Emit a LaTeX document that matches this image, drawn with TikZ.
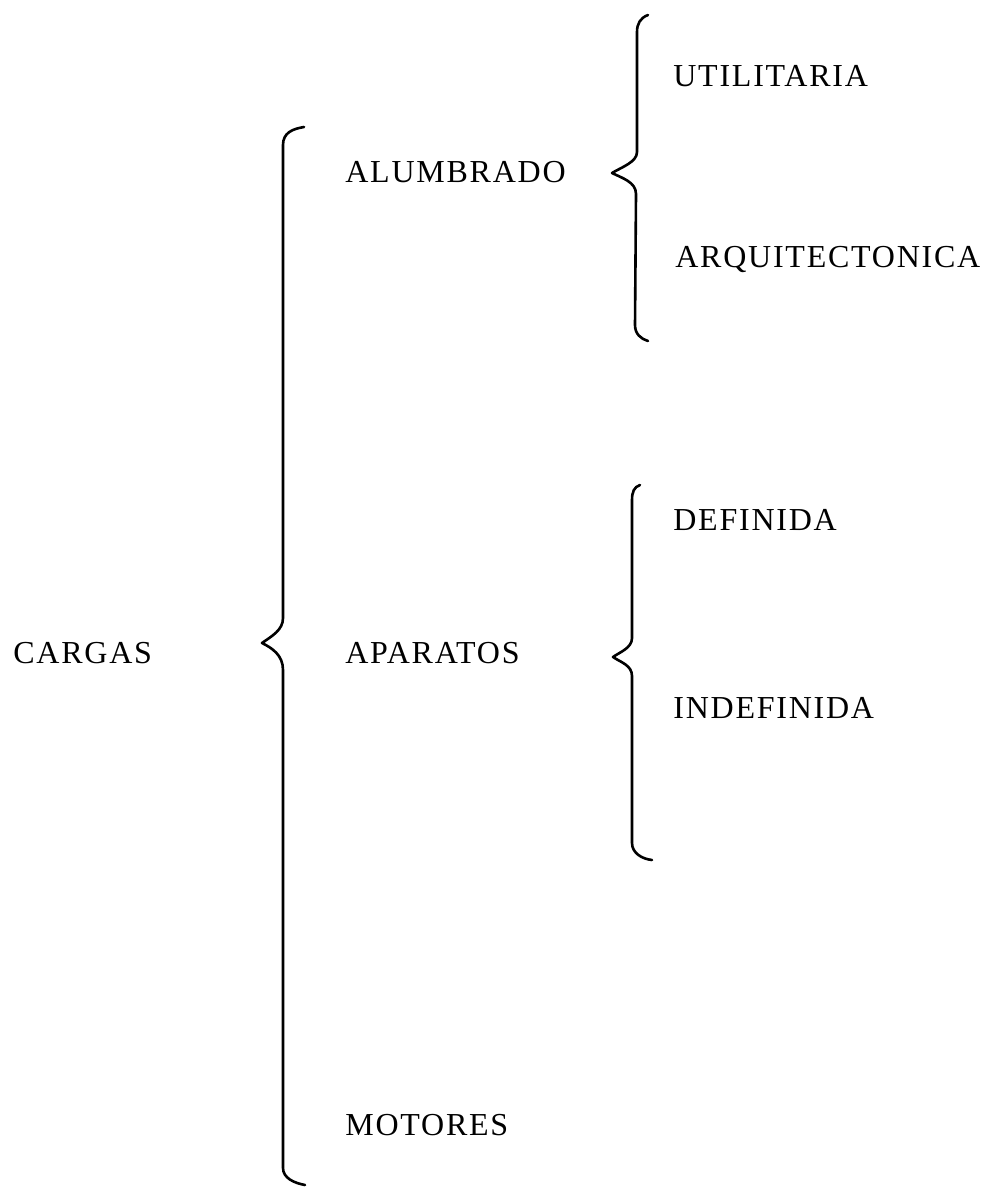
\documentclass[tikz,border=0pt]{standalone}
\usepackage{fontspec}
\setmainfont{Liberation Serif}[LetterSpace=5.5]
\begin{document}
\begin{tikzpicture}[x=0.5pt,y=-0.5pt,
  lbl/.style={anchor=base west,inner sep=0pt,font=\fontsize{16}{18}\selectfont},
  brace/.style={line width=1.3pt,line cap=round,line join=round}]
\useasboundingbox (0,0) rectangle (992,1187);
% labels
\node[lbl] (cargas) at (13,663) {CARGAS};
\node[lbl] (alum) at (345,183) {ALUMBRADO};
\node[lbl] (apar) at (345,663) {APARATOS};
\node[lbl] (mot) at (345,1135) {MOTORES};
\node[lbl] (util) at (673,87) {UTILITARIA};
\node[lbl] (arq) at (675,268) {ARQUITECTONICA};
\node[lbl] (def) at (673,530) {DEFINIDA};
\node[lbl] (indef) at (673,718) {INDEFINIDA};
% big brace
\draw[brace] (304,127) .. controls (292,129) and (283,133) .. (283,145)
  -- (283,618) .. controls (283,630) and (272,636) .. (262,643)
  .. controls (272,648) and (283,655) .. (283,670)
  -- (283,1168) .. controls (283,1178) and (294,1183) .. (305,1185);
% brace 2
\draw[brace] (648,15) .. controls (640,18) and (637,24) .. (637,32)
  -- (637,152) .. controls (637,162) and (622,167) .. (612,173)
  .. controls (622,178) and (636,182) .. (636,194)
  -- (635,325) .. controls (635,334) and (641,339) .. (648,341);
% brace 3
\draw[brace] (640,485) .. controls (634,487) and (632,492) .. (632,500)
  -- (632,638) .. controls (632,648) and (620,652) .. (613,657)
  .. controls (620,662) and (632,665) .. (632,676)
  -- (632,843) .. controls (632,853) and (642,859) .. (652,860);
\end{tikzpicture}
\end{document}
